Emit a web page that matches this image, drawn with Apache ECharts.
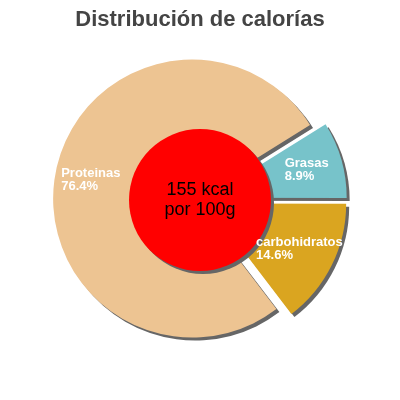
<!DOCTYPE html>
<html>
<head>
<meta charset="utf-8">
<script src="https://cdn.jsdelivr.net/npm/echarts@6/dist/echarts.min.js"></script>
<style>html,body{margin:0;padding:0;background:#fff}#c{width:400px;height:400px}</style>
</head>
<body>
<div id="c"></div>
<script>
const titleText = 'Distribución de calorías';
const categories = ['Grasas', 'carbohidratos', 'Proteinas'];
const percents = [8.9, 14.6, 76.4];
const sliceColors = ['#77c3ca', '#daa520', '#edc492'];
const centerLines = ['155 kcal', 'por 100g'];

const chart = echarts.init(document.getElementById('c'), null, {renderer: 'canvas'});
const shadow = {shadowBlur: 0, shadowOffsetX: 3, shadowOffsetY: 3, shadowColor: '#666'};
const pieData = categories.map((name, i) => ({
  name: name,
  value: percents[i],
  selected: true,
  itemStyle: Object.assign({color: sliceColors[i]}, shadow)
}));
const labelData = categories.map((name, i) => ({
  name: name,
  value: percents[i],
  selected: true,
  itemStyle: {color: 'rgba(0,0,0,0)'}
}));

const common = {
  type: 'pie',
  center: ['50%', '50%'],
  startAngle: 32,
  clockwise: true,
  selectedMode: 'multiple',
  selectedOffset: 8,
  silent: true,
  emphasis: {disabled: true},
  labelLine: {show: false},
  select: {itemStyle: {borderWidth: 0}}
};

chart.setOption({
  animation: false,
  title: {
    text: titleText, left: 'center', top: 4,
    textStyle: {fontFamily: 'Liberation Sans', fontSize: 22, fontWeight: 'bold', color: '#444'}
  },
  series: [
    Object.assign({}, common, {
      radius: [0, 139],
      label: {show: false},
      data: pieData
    }),
    {
      type: 'pie',
      center: ['50%', '50%'],
      radius: [0, 71],
      silent: true,
      emphasis: {disabled: true},
      labelLine: {show: false},
      label: {
        show: true,
        position: 'center',
        formatter: () => centerLines.join('\n'),
        fontFamily: 'Liberation Sans', fontSize: 18, color: '#000', lineHeight: 20
      },
      data: [{value: 1, name: 'kcal', itemStyle: Object.assign({color: '#ff0000'}, shadow)}]
    },
    Object.assign({}, common, {
      radius: [61, 139],
      z: 5,
      label: {
        show: true,
        position: 'inner',
        formatter: p => '{t|' + p.name + '}\n{t|' + p.value.toFixed(1) + '%}',
        rich: {
          t: {color: '#fff', fontFamily: 'Liberation Sans', fontSize: 13, fontWeight: 'bold', align: 'left', lineHeight: 13}
        }
      },
      select: {itemStyle: {borderWidth: 0, color: 'rgba(0,0,0,0)'}},
      data: labelData
    })
  ]
});
</script>
</body>
</html>
